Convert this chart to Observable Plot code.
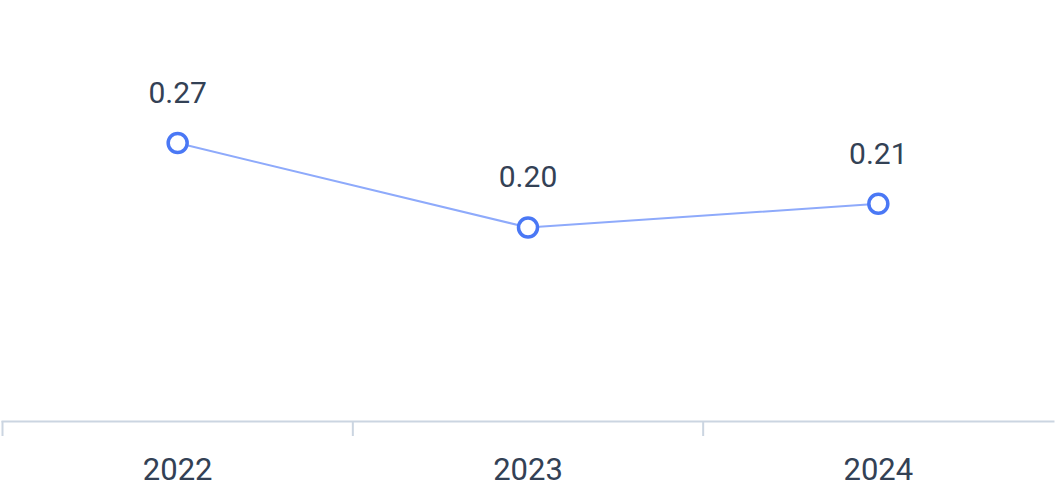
<!DOCTYPE html>
<html>
<head>
<meta charset="utf-8">
<script src="https://cdn.jsdelivr.net/npm/d3@7"></script>
<script src="https://cdn.jsdelivr.net/npm/@observablehq/plot@0.6"></script>
<style>
  html, body { margin: 0; padding: 0; background: #fff; }
  #chart svg { display: block; }
</style>
</head>
<body>
<div id="chart"></div>
<script>
// Data
const years = ["2022", "2023", "2024"];
const values = [0.2656, 0.1951, 0.2149];
const valueLabels = ["0.27", "0.20", "0.21"];

const data = years.map((y, i) => ({ idx: i + 0.5, year: y, value: values[i], label: valueLabels[i] }));
const boundaries = d3.range(years.length);
const centers = years.map((_, i) => i + 0.5);

const axisColor = "#cbd5e1";
const textColor = "#334155";

const chart = Plot.plot({
  width: 1056,
  height: 488,
  marginTop: 20,
  marginBottom: 67,
  marginLeft: 2,
  marginRight: 3,
  style: { fontFamily: "Roboto, sans-serif", background: "#fff", overflow: "visible" },
  x: { type: "linear", domain: [0, years.length], axis: null, label: null },
  y: { domain: [0.033, 0.368], axis: null, label: null },
  marks: [
    Plot.frame({ anchor: "bottom", stroke: axisColor, strokeWidth: 2 }),
    Plot.axisX({ ticks: boundaries, tickSize: 15, tickFormat: () => "", label: null, stroke: axisColor, strokeWidth: 2, strokeOpacity: 1 }),
    Plot.axisX({ ticks: centers, tickSize: 0, tickPadding: 36, label: null, tickFormat: (d) => years[Math.floor(d)], fontSize: 31, fill: textColor }),
    Plot.line(data, { x: "idx", y: "value", stroke: "#8eaafb", strokeWidth: 2 }),
    Plot.dot(data, { x: "idx", y: "value", r: 9.5, stroke: "#4a78f5", strokeWidth: 3.5, fill: "#fff" }),
    Plot.text(data, { x: "idx", y: "value", text: "label", dy: -40, lineAnchor: "bottom", fontSize: 30, fill: textColor })
  ]
});
document.getElementById("chart").appendChild(chart);
</script>
</body>
</html>
